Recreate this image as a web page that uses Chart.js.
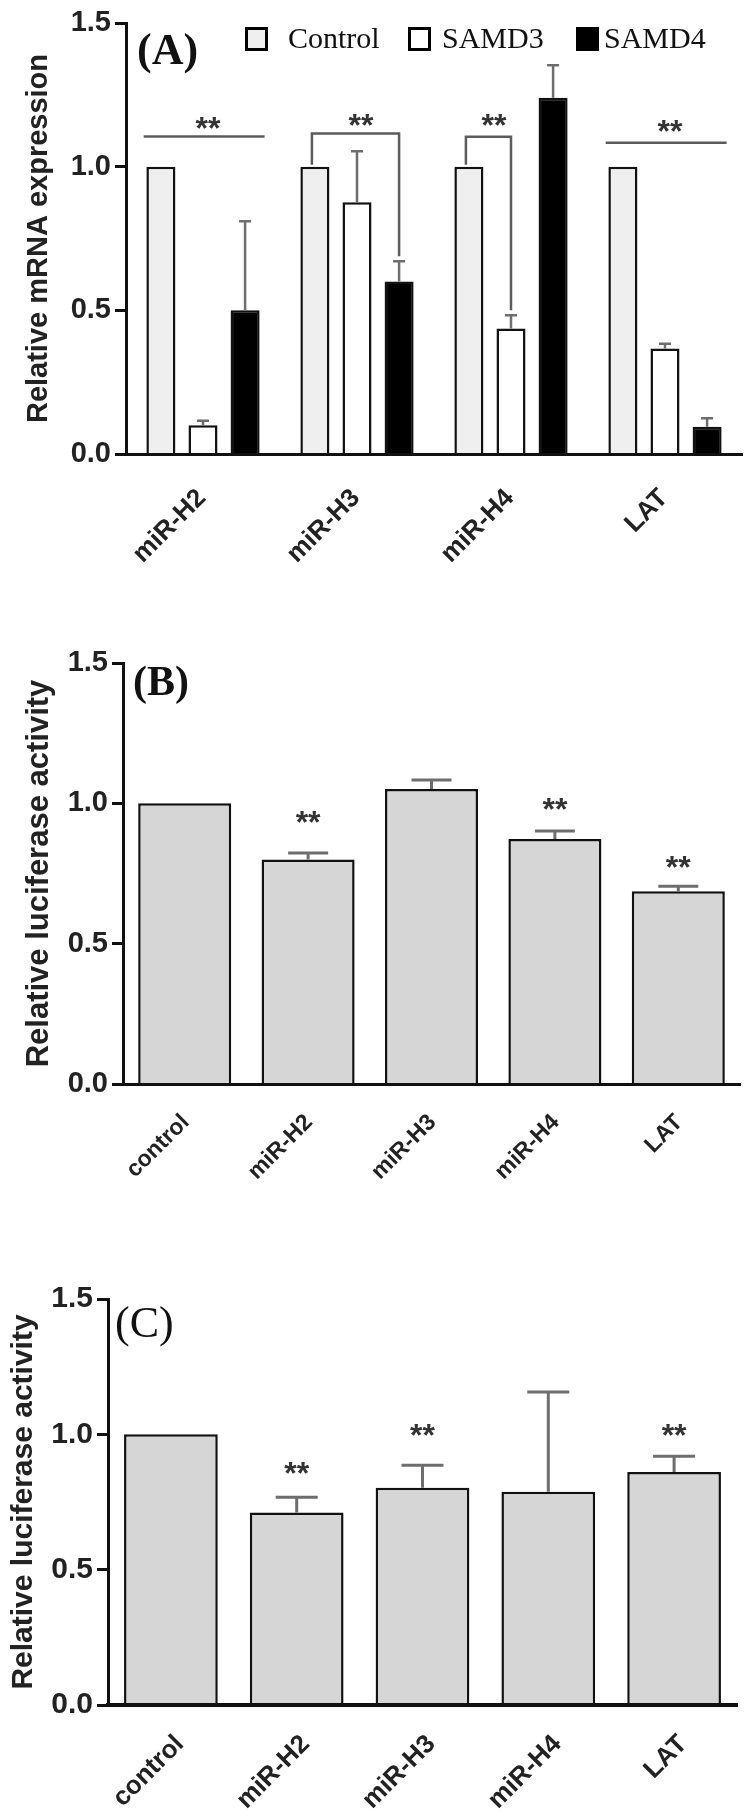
<!DOCTYPE html>
<html>
<head>
<meta charset="utf-8">
<script src="https://cdn.jsdelivr.net/npm/chart.js@4.4.0/dist/chart.umd.min.js"></script>
<style>
  html, body { margin: 0; padding: 0; background: #fff; }
  body { width: 747px; height: 1812px; position: relative; overflow: hidden; }
  canvas { position: absolute; left: 0; }
</style>
</head>
<body>
<canvas id="chartA" width="747" height="600" style="top:0"></canvas>
<canvas id="chartB" width="747" height="600" style="top:600px"></canvas>
<canvas id="chartC" width="747" height="612" style="top:1200px"></canvas>
<script>
// ---- data ----
const groupsA = ['miR-H2', 'miR-H3', 'miR-H4', 'LAT'];
const controlA = [1.0, 1.0, 1.0, 1.0];
const samd3A = [0.10, 0.876, 0.437, 0.367];
const samd3ErrA = [0.016, 0.178, 0.046, 0.017];
const samd4A = [0.50, 0.60, 1.24, 0.095];
const samd4ErrA = [0.31, 0.071, 0.113, 0.029];

const groupsBC = ['control', 'miR-H2', 'miR-H3', 'miR-H4', 'LAT'];
const lucB = [1.0, 0.80, 1.051, 0.873, 0.687];
const lucErrB = [0, 0.023, 0.032, 0.028, 0.018];
const starsB = [null, 0.958, null, 1.005, 0.798];

const lucC = [1.0, 0.711, 0.803, 0.788, 0.861];
const lucErrC = [0, 0.057, 0.083, 0.368, 0.058];
const starsC = [null, 0.882, 1.022, null, 1.022];

const yTicks = [0, 0.5, 1.0, 1.5];

// significance marks for panel A (category index, dataset indexes, y in data units)
const sigLinesA = [{ cat: 0, y: 1.105, star: 1.16 }, { cat: 3, y: 1.083, star: 1.149 }];
const sigBracketsA = [{ cat: 1, from: 0, to: 2, y: 1.115, star: 1.17 },
                      { cat: 2, from: 0, to: 1, y: 1.104, star: 1.17 }];

const SANS = "'Liberation Sans', Arial, sans-serif";
const SERIF = "'Liberation Serif', 'Times New Roman', serif";
const INK = '#111';
const ERR = '#6e6e6e';

function drawStars(ctx, x, cy) {
  ctx.save();
  ctx.font = 'bold 32px ' + SANS;
  ctx.fillStyle = '#333';
  ctx.textAlign = 'center';
  ctx.textBaseline = 'alphabetic';
  ctx.fillText('**', x, cy + 18);
  ctx.restore();
}

// error bars (upper only), from dataset.errors
const errorBars = {
  id: 'errorBars',
  afterDatasetsDraw(chart, args, opts) {
    const ctx = chart.ctx, y = chart.scales.y;
    ctx.save();
    ctx.strokeStyle = ERR;
    ctx.lineWidth = opts.width || 2.5;
    chart.data.datasets.forEach((ds, di) => {
      if (!ds.errors) return;
      chart.getDatasetMeta(di).data.forEach((bar, i) => {
        const e = ds.errors[i];
        if (!e) return;
        const top = y.getPixelForValue(ds.data[i] + e);
        ctx.beginPath();
        ctx.moveTo(bar.x, bar.y);
        ctx.lineTo(bar.x, top);
        ctx.moveTo(bar.x - opts.cap / 2, top);
        ctx.lineTo(bar.x + opts.cap / 2, top);
        ctx.stroke();
      });
    });
    ctx.restore();
  }
};

// panel letter + rotated y title
const panelText = {
  id: 'panelText',
  afterDraw(chart, args, o) {
    const ctx = chart.ctx, a = chart.chartArea;
    ctx.save();
    ctx.fillStyle = INK;
    ctx.font = o.letterFont;
    ctx.textBaseline = 'alphabetic';
    ctx.fillText(o.letter, o.letterX, o.letterY);
    ctx.translate(o.titleX, (a.top + a.bottom) / 2);
    ctx.rotate(-Math.PI / 2);
    ctx.font = o.titleFont;
    ctx.fillStyle = '#222';
    ctx.textAlign = 'center';
    ctx.textBaseline = 'middle';
    ctx.fillText(o.title, 0, 0);
    ctx.restore();
  }
};

// stars above single-series bars
const starMarks = {
  id: 'starMarks',
  afterDatasetsDraw(chart, args, o) {
    if (!o.values) return;
    const y = chart.scales.y, bars = chart.getDatasetMeta(0).data;
    o.values.forEach((v, i) => { if (v != null) drawStars(chart.ctx, bars[i].x, y.getPixelForValue(v)); });
  }
};

// panel A: legend + significance lines / brackets
const panelA = {
  id: 'panelA',
  afterDatasetsDraw(chart) {
    const ctx = chart.ctx, y = chart.scales.y, x = chart.scales.x;
    const catW = x.getPixelForValue(1) - x.getPixelForValue(0);
    ctx.save();
    ctx.strokeStyle = '#5c5c5c';
    ctx.lineWidth = 2.5;
    sigLinesA.forEach(s => {
      const cx = x.getPixelForValue(s.cat), py = y.getPixelForValue(s.y);
      ctx.beginPath();
      ctx.moveTo(cx - catW * 0.385, py);
      ctx.lineTo(cx + catW * 0.40, py);
      ctx.stroke();
      drawStars(ctx, cx + 5, y.getPixelForValue(s.star));
    });
    sigBracketsA.forEach(s => {
      const ds = chart.data.datasets;
      const b0 = chart.getDatasetMeta(s.from).data[s.cat];
      const b1 = chart.getDatasetMeta(s.to).data[s.cat];
      const v1 = ds[s.to].data[s.cat] + (ds[s.to].errors ? ds[s.to].errors[s.cat] : 0);
      const py = y.getPixelForValue(s.y);
      ctx.beginPath();
      ctx.moveTo(b0.x - 3, y.getPixelForValue(ds[s.from].data[s.cat]) - 2);
      ctx.lineTo(b0.x - 3, py);
      ctx.lineTo(b1.x, py);
      ctx.lineTo(b1.x, y.getPixelForValue(v1) - 5);
      ctx.stroke();
      drawStars(ctx, (b0.x + b1.x) / 2 + 4, y.getPixelForValue(s.star));
    });
    ctx.restore();

    // legend
    const boxes = [[245, 288], [408, 442], [576, 604]];
    ctx.save();
    ctx.font = '30px ' + SERIF;
    ctx.textBaseline = 'alphabetic';
    chart.data.datasets.forEach((ds, i) => {
      const [bx, tx] = boxes[i];
      ctx.fillStyle = ds.backgroundColor;
      ctx.fillRect(bx, 27, 23, 24);
      ctx.strokeStyle = '#000';
      ctx.lineWidth = 3;
      ctx.strokeRect(bx + 1.5, 28.5, 20, 21);
      ctx.fillStyle = INK;
      ctx.fillText(ds.label, tx, 48);
    });
    ctx.restore();
  }
};

function yScale(width, fontSize) {
  return {
    min: 0, max: 1.5,
    afterBuildTicks: s => { s.ticks = yTicks.map(v => ({ value: v })); },
    ticks: { callback: v => Number(v).toFixed(1), color: '#222', padding: 4,
             font: { family: SANS, size: fontSize, weight: 'bold' } },
    grid: { drawOnChartArea: false, tickLength: 11, tickWidth: 3, tickColor: INK },
    border: { width: 3, color: INK, z: 1 },
    afterFit: s => { s.width = width; }
  };
}

function xScale(height, fontSize, pad, offset, axisW) {
  return {
    grid: { display: false, drawTicks: false },
    border: { width: axisW, color: INK, z: 1 },
    ticks: { minRotation: 45, maxRotation: 45, autoSkip: false, padding: pad, labelOffset: offset,
             color: '#222', font: { family: SANS, size: fontSize, weight: 'bold' } },
    afterFit: s => { s.height = height; }
  };
}

const common = {
  responsive: false,
  animation: false,
  events: [],
};

new Chart(document.getElementById('chartA'), {
  type: 'bar',
  data: {
    labels: groupsA,
    datasets: [
      { label: 'Control', data: controlA, backgroundColor: '#efefef' },
      { label: 'SAMD3', data: samd3A, errors: samd3ErrA, backgroundColor: '#ffffff' },
      { label: 'SAMD4', data: samd4A, errors: samd4ErrA, backgroundColor: '#000000' }
    ].map(d => Object.assign(d, { borderColor: INK, borderWidth: 2.5, barPercentage: 0.69, categoryPercentage: 0.82 }))
  },
  options: Object.assign({}, common, {
    layout: { padding: { top: 23, right: 5, left: 0, bottom: 0 } },
    scales: { x: xScale(146, 26, 29, -1, 3), y: yScale(126, 29) },
    plugins: {
      legend: { display: false }, tooltip: { enabled: false },
      errorBars: { cap: 12, width: 2.5 },
      panelText: { letter: '(A)', letterFont: 'bold 44px ' + SERIF, letterX: 137, letterY: 64,
                   title: 'Relative mRNA expression', titleFont: 'bold 29px ' + SANS, titleX: 39 }
    }
  }),
  plugins: [errorBars, panelA, panelText]
});

new Chart(document.getElementById('chartB'), {
  type: 'bar',
  data: {
    labels: groupsBC,
    datasets: [{ data: lucB, errors: lucErrB, backgroundColor: '#d6d6d6', borderColor: INK,
                 borderWidth: 2.5, barPercentage: 1, categoryPercentage: 0.754 }]
  },
  options: Object.assign({}, common, {
    layout: { padding: { top: 63, right: 7, left: 0, bottom: 0 } },
    scales: { x: xScale(116, 23, 25, 1, 3), y: yScale(123, 29) },
    plugins: {
      legend: { display: false }, tooltip: { enabled: false },
      errorBars: { cap: 40, width: 3 },
      starMarks: { values: starsB },
      panelText: { letter: '(B)', letterFont: 'bold 42px ' + SERIF, letterX: 133, letterY: 95,
                   title: 'Relative luciferase activity', titleFont: 'bold 31px ' + SANS, titleX: 39 }
    }
  }),
  plugins: [errorBars, starMarks, panelText]
});

new Chart(document.getElementById('chartC'), {
  type: 'bar',
  data: {
    labels: groupsBC,
    datasets: [{ data: lucC, errors: lucErrC, backgroundColor: '#d6d6d6', borderColor: INK,
                 borderWidth: 2.5, barPercentage: 1, categoryPercentage: 0.745 }]
  },
  options: Object.assign({}, common, {
    layout: { padding: { top: 99, right: 10, left: 0, bottom: 0 } },
    scales: { x: xScale(107, 26, 24, 9, 4), y: yScale(108, 30) },
    plugins: {
      legend: { display: false }, tooltip: { enabled: false },
      errorBars: { cap: 42, width: 3 },
      starMarks: { values: starsC },
      panelText: { letter: '(C)', letterFont: '44px ' + SERIF, letterX: 115, letterY: 137,
                   title: 'Relative luciferase activity', titleFont: 'bold 30px ' + SANS, titleX: 24 }
    }
  }),
  plugins: [errorBars, starMarks, panelText]
});
</script>
</body>
</html>
